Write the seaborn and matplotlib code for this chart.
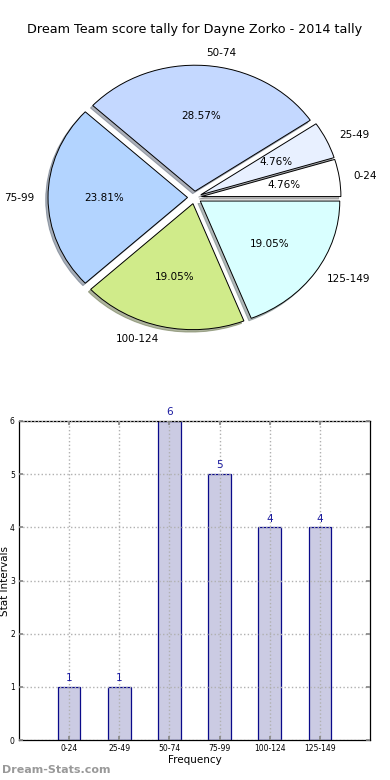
import matplotlib
matplotlib.use("Agg")
import matplotlib.pyplot as plt
import seaborn as sns
import pandas as pd

categories = ["0-24", "25-49", "50-74", "75-99", "100-124", "125-149"]
counts = [1, 1, 6, 5, 4, 4]
pie_colors = ["#ffffff", "#e8f0ff", "#c4d8ff", "#b3d4ff", "#d0eb8a", "#d9ffff"]
title = "Dream Team score tally for Dayne Zorko - 2014 tally"

sns.set_theme(style="white")
plt.rcParams['font.family'] = ['DejaVu Sans']
plt.rcParams['text.color'] = 'black'
plt.rcParams['axes.labelcolor'] = 'black'
plt.rcParams['xtick.color'] = 'black'
plt.rcParams['ytick.color'] = 'black'

fig = plt.figure(figsize=(3.9, 7.8), dpi=100)
W, H = 390, 780

# ---- pie ----
cx, cy, rx, ry = 194.5, 197.5, 139.5, 126.0
px0, px1, py0, py1 = 5, 385, 40, 370
axp = fig.add_axes([px0 / W, 1 - py1 / H, (px1 - px0) / W, (py1 - py0) / H])
wedges, texts, autotexts = axp.pie(
    counts, labels=categories, colors=pie_colors, explode=[0.05] * len(counts),
    autopct='%1.2f%%', pctdistance=0.6, labeldistance=1.1,
    shadow=dict(ox=-0.012, oy=-0.014, shade=0.55),
    startangle=0, wedgeprops=dict(edgecolor='black', linewidth=0.7),
    textprops=dict(fontsize=7.5, color='black'))
axp.set_aspect('auto')
axp.set_xlim((px0 - cx) / rx, (px1 - cx) / rx)
axp.set_ylim(-(py1 - cy) / ry, (cy - py0) / ry)
axp.axis('off')
fig.text(0.5, 1 - 30 / H, title, ha='center', va='center', fontsize=9.2, color='black')

# ---- bars ----
ax = fig.add_axes([19 / W, 1 - 740 / H, (370 - 19) / W, (740 - 421) / H])
df = pd.DataFrame({"interval": categories, "count": counts})
sns.barplot(data=df, x="interval", y="count", ax=ax, color="#cbcbe3",
            width=0.45, edgecolor="#0a0a8a", linewidth=0.9, saturation=1)
for p in ax.patches:
    p.set_facecolor("#cbcbe3")
for i, v in enumerate(counts):
    ax.text(i, v + 0.07, str(v), ha='center', va='bottom', fontsize=7.5, color='#1a1aa0')
ax.set_xlim(-1, 6)
ax.set_ylim(0, 6)
ax.set_yticks(range(0, 7))
ax.grid(True, linestyle=':', color='#b0b0b0', linewidth=1.0)
ax.set_axisbelow(False)
for s in ax.spines.values():
    s.set_color('black')
    s.set_linewidth(0.9)
ax.tick_params(axis='both', labelsize=5.5, direction='in', length=3,
               top=True, right=True, bottom=True, left=True, color='#888888', pad=3)
ax.set_xlabel("Frequency", fontsize=7.5, labelpad=1)
ax.set_ylabel("Stat Intervals", fontsize=7.5, labelpad=0)

fig.text(2 / W, 1 - 770 / H, "Dream-Stats.com", ha='left', va='center',
         fontsize=8, color='#999999', fontweight='bold')

fig.savefig("out.png", dpi=100)
